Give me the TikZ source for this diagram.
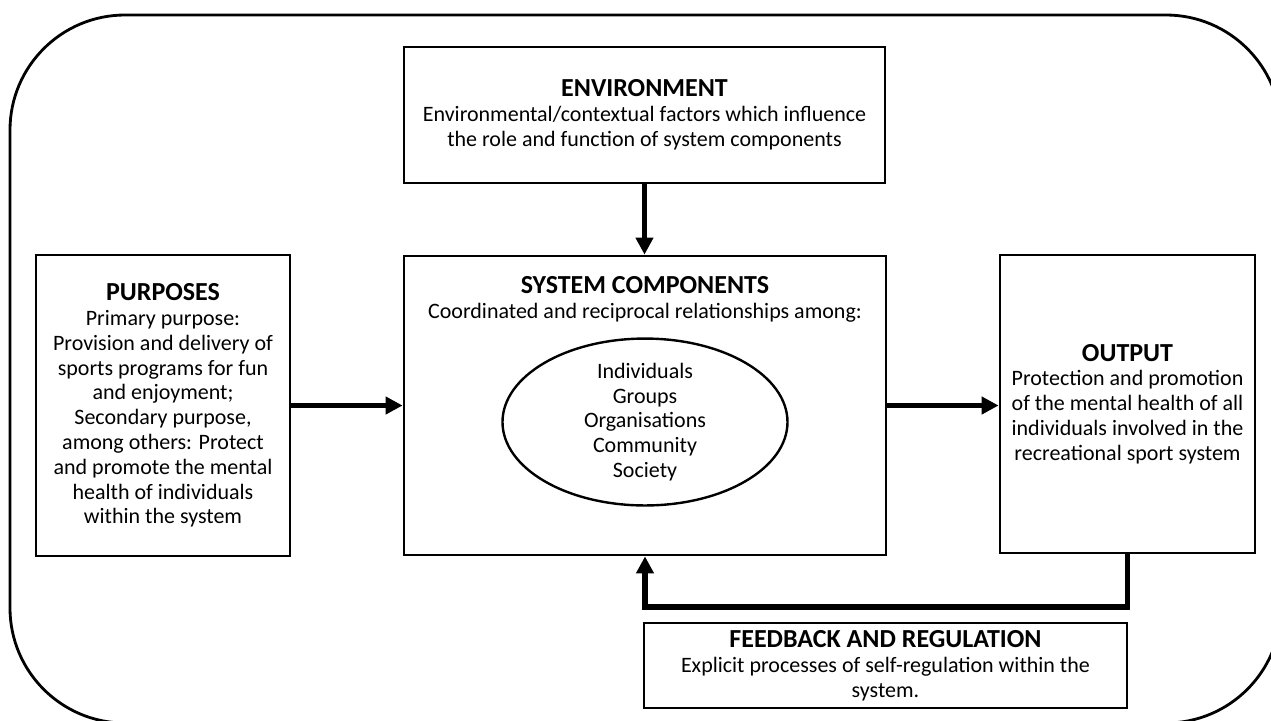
\documentclass[tikz,border=0pt]{standalone}
\usepackage{fontspec}
\setmainfont{Carlito}
\usetikzlibrary{arrows.meta,shapes.geometric}
\newcommand\hd[1]{{\fontsize{13}{12.4}\selectfont\bfseries #1}}

\begin{document}
\begin{tikzpicture}[x=0.5pt, y=-0.5pt, font=\fontsize{11}{12.4}\selectfont,
  box/.style={draw, line width=1.4pt, align=center, inner sep=0pt},
  flow/.style={line width=2.6pt, -{Triangle[length=8.5pt,width=8.5pt]}}]
 \useasboundingbox (0,0) rectangle (1271,720);
 \draw[line width=1.4pt, rounded corners=57.5pt] (10,15) rectangle (1281,723);
 \node[box, minimum width=240.5pt, minimum height=68pt] (env) at (644.5,115)
   {\hd{ENVIRONMENT}\\Environmental/contextual factors which influence\\the role and function of system components};
 \node[box, minimum width=127pt, minimum height=150.5pt] (purp) at (163,405.5)
   {\hd{PURPOSES}\\Primary purpose:\\Provision and delivery of\\sports programs for fun\\and enjoyment;\\Secondary purpose,\\among others: Protect\\and promote the mental\\health of individuals\\within the system};
 \node[box, minimum width=241pt, minimum height=149.5pt] (sys) at (645,405.5) {};
 \node[align=center, anchor=north, inner sep=0pt] (systxt) at (645,276)
   {\hd{SYSTEM COMPONENTS}\\Coordinated and reciprocal relationships among:};
 \node[draw, ellipse, line width=1.2pt, minimum width=142.5pt, minimum height=82.5pt, inner sep=0pt, align=center] (agents) at (645,422)
   {Individuals\\Groups\\Organisations\\Community\\Society};
 \node[box, minimum width=127.5pt, minimum height=149pt] (out) at (1127.5,404)
   {\hd{OUTPUT}\\Protection and promotion\\of the mental health of all\\individuals involved in the\\recreational sport system};
 \node[box, minimum width=241.5pt, minimum height=42.5pt] (fbk) at (885.5,665.5)
   {\hd{FEEDBACK AND REGULATION}\\Explicit processes of self-regulation within the\\system.};
 \coordinate (turn) at (1127.5,607);
 \draw[flow] (env.south) -- (env.south |- sys.north);
 \draw[flow] (purp) -- (sys);
 \draw[flow] (sys.east) -- (sys.east -| out.west);
 \draw[flow] (out.south) -- (turn) -| (sys.south);
\end{tikzpicture}
\end{document}
